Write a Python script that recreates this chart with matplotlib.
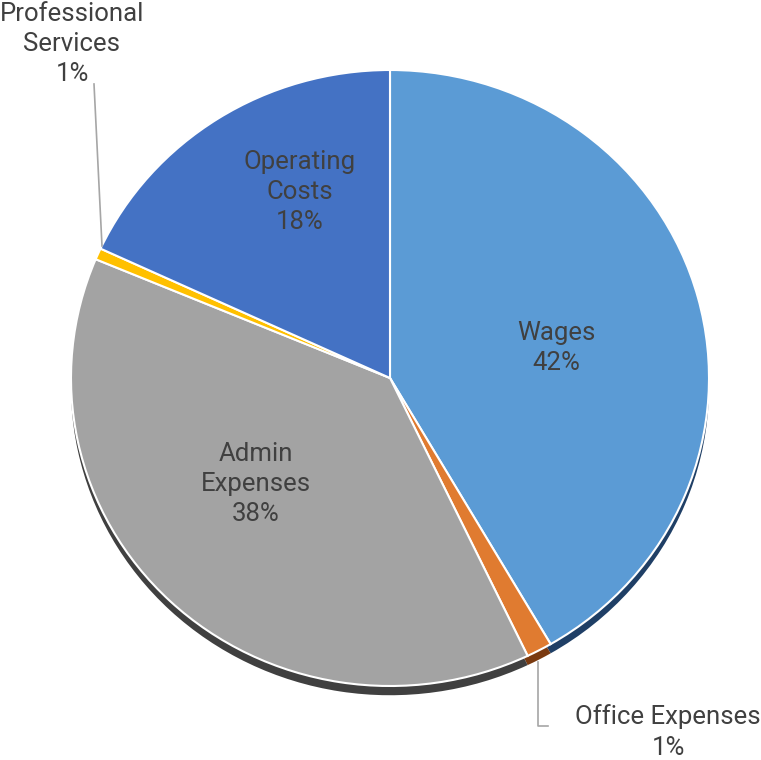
import matplotlib.pyplot as plt

categories = ["Wages", "Office Expenses", "Admin\nExpenses", "Professional\nServices", "Operating\nCosts"]
values = [41.6, 1.3, 38.4, 0.6, 18.1]
colors = ["#5B9BD5", "#E07B30", "#A3A3A3", "#FFC000", "#4472C4"]
rim_colors = ["#1F3F66", "#7A3A10", "#404040", "#8A6A00", "#23406E"]

W, H = 761, 760
CX, CY, RX, RY = 390, 378, 319, 308


def px(x, y):
    # picture pixel -> data coords
    return (x - CX) / RX, (CY - y) / RY


fig = plt.figure(figsize=(W / 100, H / 100), dpi=100)
ax = fig.add_axes([0, 0, 1, 1])

# 3d-ish rim under the pie
ax.pie(values, colors=rim_colors, startangle=90, counterclock=False,
       center=(0, -0.03), radius=1,
       wedgeprops=dict(linewidth=0, zorder=1))
wedges, _ = ax.pie(values, colors=colors, startangle=90, counterclock=False,
                   center=(0, 0), radius=1,
                   wedgeprops=dict(edgecolor="white", linewidth=1.5, zorder=2))

ax.set_aspect("auto")
ax.set_xlim(-CX / RX, (W - CX) / RX)
ax.set_ylim((CY - H) / RY, CY / RY)
ax.axis("off")

txt = dict(color="#404040", fontsize=18.5, family="Roboto", ha="center", va="center",
           linespacing=1.32, zorder=5)
label_pos = [(556, 348), (668, 732), (256, 484), (72, 44), (300, 192)]
for name, v, (lx, ly) in zip(categories, values, label_pos):
    ax.text(*px(lx, ly), f"{name}\n{v:.0f}%", **txt)

# leader lines
lc = dict(color="#A6A6A6", linewidth=1.2, zorder=4)
p1, p2 = px(94, 84), px(102, 246)
ax.plot([p1[0], p2[0]], [p1[1], p2[1]], **lc)
q1, q2, q3 = px(538, 662), px(538, 726), px(548, 726)
ax.plot([q1[0], q2[0], q3[0]], [q1[1], q2[1], q3[1]], **lc)

fig.savefig("out.png", dpi=100, facecolor="white")
